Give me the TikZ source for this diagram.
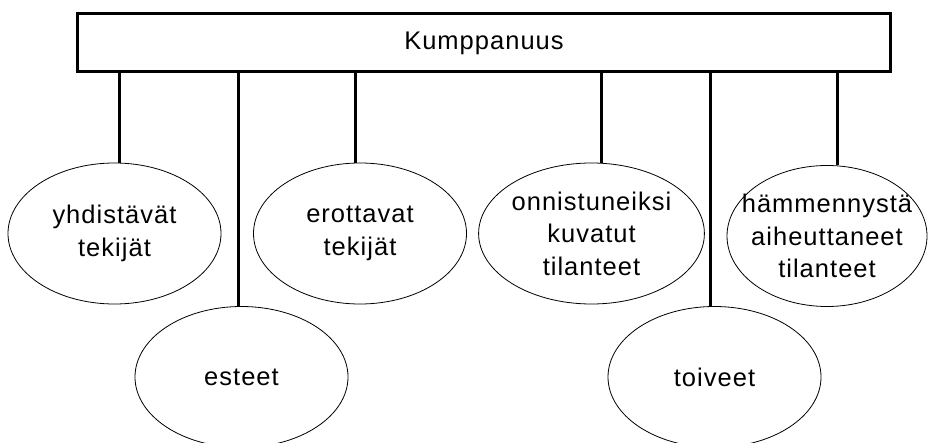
\documentclass[tikz,border=0pt]{standalone}
\usepackage{fontspec}
\setmainfont[LetterSpace=4]{Liberation Sans}
\usetikzlibrary{shapes}

\begin{document}
\begin{tikzpicture}[x=1pt, y=-1pt,
      every node/.style={font=\fontsize{25.5}{32.5}\selectfont},
      topic/.style={rectangle, draw, line width=3pt, minimum width=813pt, minimum height=58pt},
      theme/.style={ellipse, draw, line width=0.8pt, inner sep=0pt, align=center, minimum width=213pt, minimum height=141pt},
      link/.style={line width=3pt}]
      \useasboundingbox (0, 0) rectangle (928, 443);
      \node[topic](kump) at (484, 43){Kumppanuus};
      \node[theme](yhd) at (114.5, 233.5){yhdistävät\\tekijät};
      \node[theme](est) at (241.5, 377){esteet};
      \node[theme](ero) at (360, 233.5){erottavat\\tekijät};
      \node[theme](onn) at (591.5, 233.5){onnistuneiksi\\kuvatut\\tilanteet};
      \node[theme](toi) at (714.5, 377){toiveet};
      \node[theme, inner xsep=-16pt, minimum width=200pt](ham) at (827, 236){hämmennystä\\aiheuttaneet\\tilanteet};
      \foreach \n/\dx in {yhd/4.5, est/-3.5, ero/-5, onn/9.5, toi/-4.5, ham/10}
        \draw[link] ([xshift=\dx pt]\n.north) -- ([xshift=\dx pt]\n.north |- kump.south);
    \end{tikzpicture}
\end{document}
